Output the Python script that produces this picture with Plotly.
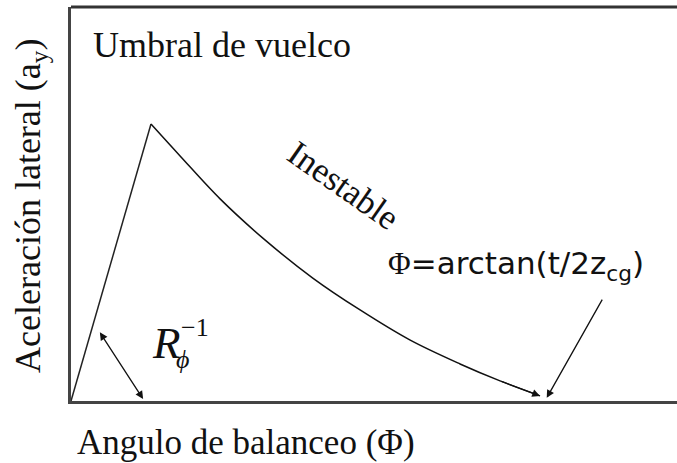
import plotly.graph_objects as go

# Data (arbitrary units: x = roll angle 0..100, y = lateral accel 0..1)
rise_x = [0.0, 13.2]
rise_y = [0.0, 0.703]
curve_x = [13.2, 18.0, 24.6, 32.0, 39.9, 47.7, 55.9, 64.2, 70.8, 77.4]
curve_y = [0.703, 0.622, 0.513, 0.409, 0.312, 0.231, 0.155, 0.094, 0.051, 0.013]

SERIF = "Liberation Serif"
SANS = "DejaVu Sans"

fig = go.Figure()
fig.add_trace(go.Scatter(x=rise_x, y=rise_y, mode="lines",
                         line=dict(color="#222", width=1.5), hoverinfo="skip"))
fig.add_trace(go.Scatter(x=curve_x, y=curve_y, mode="lines", line_shape="spline",
                         line=dict(color="#111", width=1.5), hoverinfo="skip"))

ann = []
# arrowhead at end of curve
ann.append(dict(x=curve_x[-1], y=curve_y[-1], ax=curve_x[-2], ay=curve_y[-2],
                xref="x", yref="y", axref="x", ayref="y", text="",
                showarrow=True, arrowhead=2, arrowsize=1.2, arrowwidth=1.3,
                arrowcolor="#111", standoff=0))
# double arrow (R^-1)
ann.append(dict(x=11.9, y=0.005, ax=4.6, ay=0.178, xref="x", yref="y", axref="x", ayref="y",
                text="", showarrow=True, arrowhead=2, startarrowhead=2, arrowside="end+start",
                arrowsize=1.2, startarrowsize=1.2, arrowwidth=1.3, arrowcolor="#111",
                standoff=0, startstandoff=0))
# arctan arrow
ann.append(dict(x=78.5, y=0.008, ax=87.8, ay=0.261, xref="x", yref="y", axref="x", ayref="y",
                text="", showarrow=True, arrowhead=2, arrowsize=1.2, arrowwidth=1.3,
                arrowcolor="#111", standoff=0))

ann.append(dict(x=3.3, y=0.904, xref="x", yref="y", xanchor="left", yanchor="middle",
                text="Umbral de vuelco", showarrow=False,
                font=dict(family=SERIF, size=36, color="#111")))
ann.append(dict(x=44.9, y=0.546, xref="x", yref="y", xanchor="center", yanchor="middle",
                text="Inestable", textangle=35, showarrow=False,
                font=dict(family=SERIF, size=35, color="#111")))
ann.append(dict(x=52.0, y=0.345, xref="x", yref="y", xanchor="left", yanchor="middle",
                text='<span style="font-family:Liberation Serif">Φ</span>=arctan(t/2z<sub>cg</sub>)',
                showarrow=False, font=dict(family=SANS, size=31, color="#111")))
# R_phi^-1
ann.append(dict(x=13.0, y=0.147, xref="x", yref="y", xanchor="left", yanchor="middle",
                text="<i>R</i>", showarrow=False,
                font=dict(family=SERIF, size=45, color="#111")))
ann.append(dict(x=17.9, y=0.187, xref="x", yref="y", xanchor="left", yanchor="middle",
                text="−1", showarrow=False,
                font=dict(family=SERIF, size=26, color="#111")))
ann.append(dict(x=17.0, y=0.105, xref="x", yref="y", xanchor="left", yanchor="middle",
                text="<i>ϕ</i>", showarrow=False,
                font=dict(family=SERIF, size=26, color="#111")))

# axis titles
ann.append(dict(x=-0.066, y=0.495, xref="paper", yref="paper", xanchor="center", yanchor="middle",
                text="Aceleración lateral (a<sub>y</sub>)", textangle=-90, showarrow=False,
                font=dict(family=SERIF, size=36, color="#111")))
ann.append(dict(x=0.006, y=-0.106, xref="paper", yref="paper", xanchor="left", yanchor="middle",
                text="Angulo de balanceo (Φ)", showarrow=False,
                font=dict(family=SERIF, size=35, color="#111")))

fig.update_layout(
    width=677, height=463,
    margin=dict(l=71, r=0, t=7, b=62),
    paper_bgcolor="white", plot_bgcolor="white",
    showlegend=False,
    annotations=ann,
    xaxis=dict(range=[0, 100], showgrid=False, zeroline=False, showticklabels=False,
               ticks="", showline=True, linecolor="#444", linewidth=3),
    yaxis=dict(range=[0, 1], showgrid=False, zeroline=False, showticklabels=False,
               ticks="", showline=True, linecolor="#444", linewidth=3),
    shapes=[dict(type="line", xref="paper", yref="paper", x0=0, x1=1, y0=1, y1=1,
                 line=dict(color="#333", width=3))],
)

fig.write_html("out.html", config={"displayModeBar": False},
               post_script="document.body.style.margin='0';document.body.style.overflow='hidden';")
